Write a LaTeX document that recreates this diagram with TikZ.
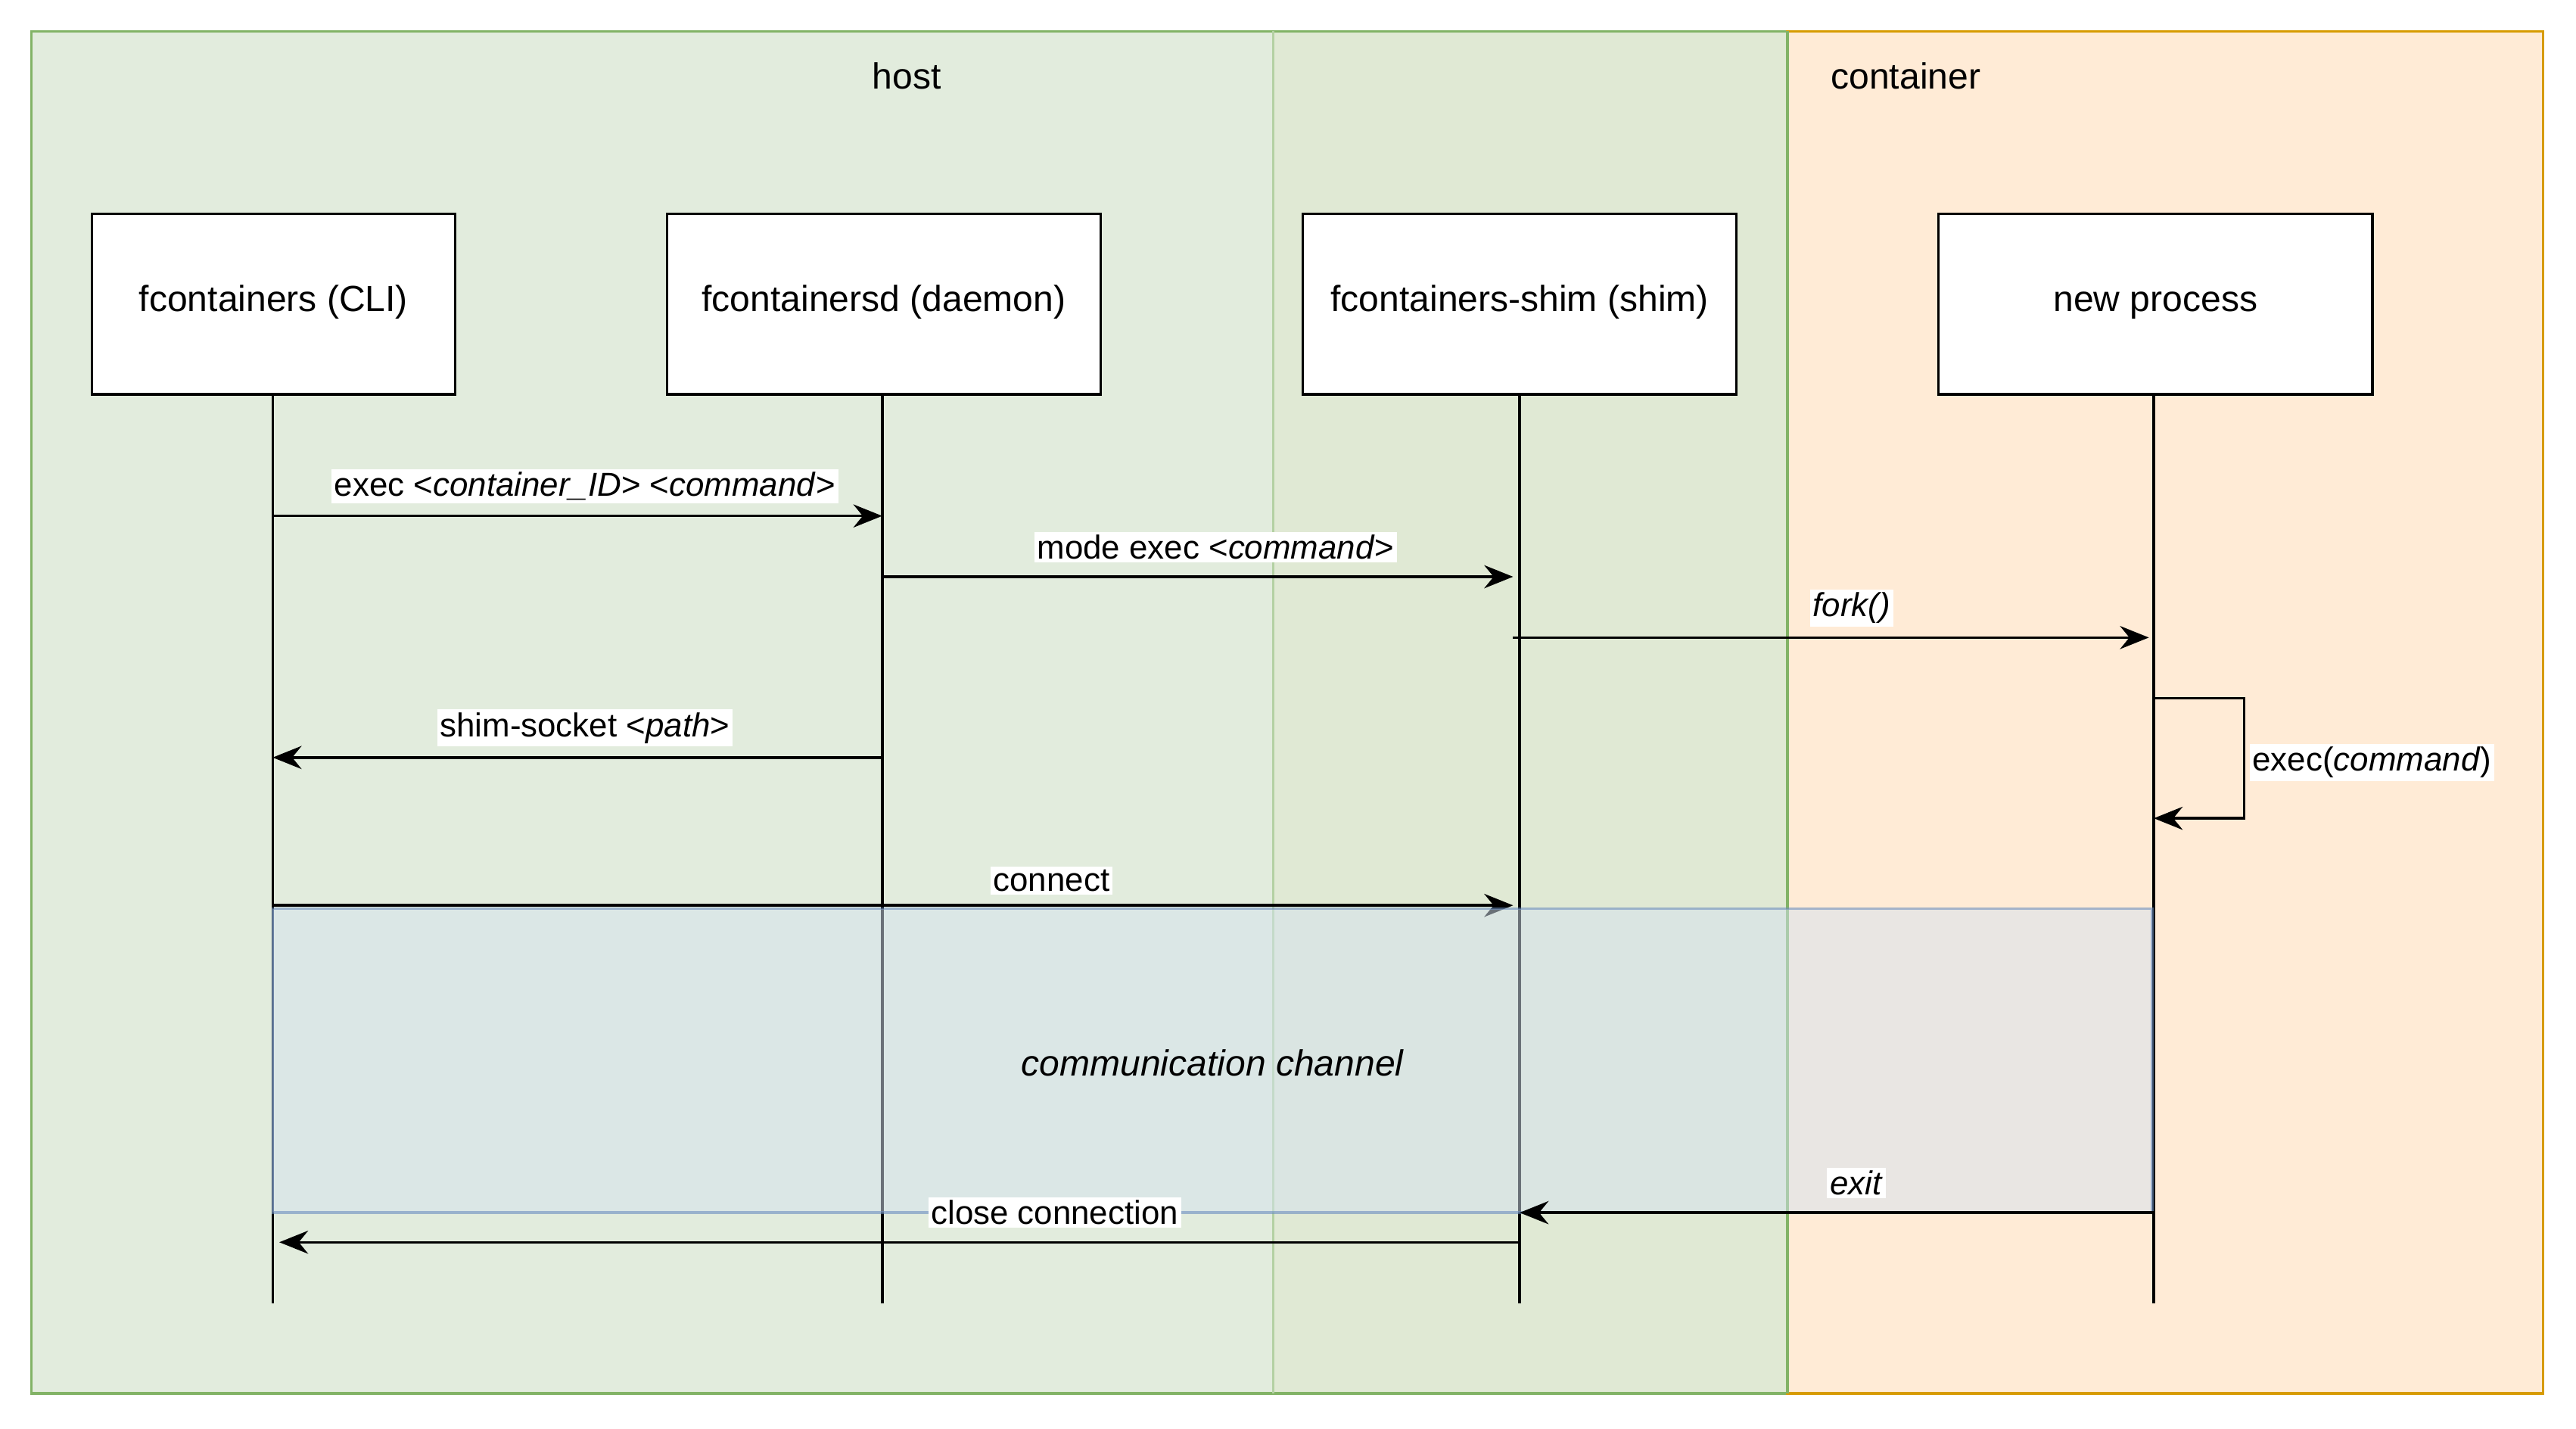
\documentclass[tikz,border=0pt]{standalone}
\usepackage{fontspec}
\setmainfont{Liberation Sans}
\usetikzlibrary{arrows.meta}
\definecolor{hostg}{HTML}{E2ECDD}
\definecolor{midg}{HTML}{E0E9D4}
\definecolor{gborder}{HTML}{82B366}
\definecolor{contf}{HTML}{FFEBD6}
\definecolor{contb}{HTML}{D79B00}
\definecolor{chanf}{HTML}{D5E3F0}
\definecolor{chanb}{HTML}{6C8EBF}
\begin{document}
\begin{tikzpicture}[x=0.02cm,y=-0.02cm,
  box/.style={draw=black,fill=white,line width=0.9pt,minimum width=5.28cm,minimum height=2.2cm,font=\fontsize{12.6}{15}\selectfont,inner sep=0,text height=8pt,text depth=3pt},
  life/.style={line width=0.9pt},
  msg/.style={line width=0.9pt,-{Stealth[length=10pt,width=8pt]}},
  lbl/.style={fill=white,inner sep=1pt,font=\fontsize{11.5}{13}\selectfont}]
\useasboundingbox (0,0) rectangle (1568,869.6);
\fill[hostg] (19,19) rectangle (775,848);
\fill[midg] (775,19) rectangle (1088,848);
\draw[gborder,line width=0.9pt] (19,19) rectangle (1088,848);
\draw[gborder!60,line width=0.6pt] (775,19) -- (775,848);
\draw[contb,fill=contf,line width=0.9pt] (1088,19) rectangle (1548,848);
\draw[gborder,line width=0.9pt] (1088,19) -- (1088,848);
\node[font=\fontsize{12.6}{15}\selectfont] (host) at (552,46) {host};
\node[font=\fontsize{12.6}{15}\selectfont] (cont) at (1160,46) {container};
\node[box,minimum width=4.42cm] (cli) at (166.5,185) {fcontainers (CLI)};
\node[box] (dae) at (538,185) {fcontainersd (daemon)};
\node[box] (shim) at (925,185) {fcontainers-shim (shim)};
\node[box] (np) at (1312,185) {new process};
\coordinate (c0) at (166,793); \coordinate (d0) at (537,793);
\coordinate (s0) at (925,793); \coordinate (n0) at (1311,793);
\draw[life] (166,240) -- (c0);
\draw[life] (537,240) -- (d0);
\draw[life] (925,240) -- (s0);
\draw[life] (1311,240) -- (n0);
\draw[msg] (166,314) -- (537,314);
\node[lbl] at (356,296) {exec <\textit{container\_ID}> <\textit{command}>};
\draw[msg] (537,351) -- (921,351);
\node[lbl] at (740,333) {mode exec <\textit{command}>};
\draw[msg] (921,388) -- (1308,388);
\node[lbl] at (1127,370) {\textit{fork()}};
\draw[msg] (1311,425) -- (1366,425) -- (1366,498) -- (1311,498);
\node[lbl,anchor=west] at (1369,464) {exec(\textit{command})};
\draw[msg] (537,461) -- (166,461);
\node[lbl] at (356,443) {shim-socket <\textit{path}>};
\draw[msg] (166,551) -- (921,551);
\node[lbl] at (640,536) {connect};
\draw[chanb,fill=chanf,fill opacity=0.5,draw opacity=0.6,line width=0.9pt] (166,553) rectangle (1310,738);
\node[font=\fontsize{12.6}{15}\selectfont\itshape] (ch) at (738,647) {communication channel};
\draw[msg] (1311,738) -- (925,738);
\node[lbl] at (1130,720) {\textit{exit}};
\draw[msg] (925,756) -- (170,756);
\node[lbl] at (642,738) {close connection};
\end{tikzpicture}
\end{document}
